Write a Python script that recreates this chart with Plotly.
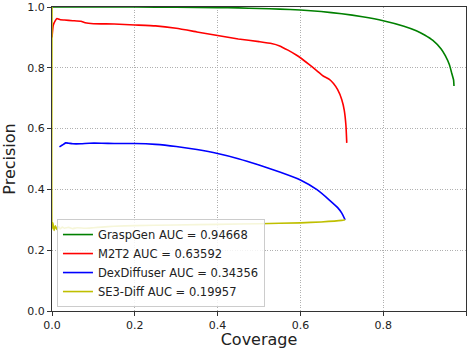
import plotly.graph_objects as go

# ---- data ----
graspgen_cov = [0.0, 0.1, 0.2, 0.3, 0.4, 0.45, 0.5, 0.55, 0.6, 0.65, 0.7, 0.75, 0.8, 0.85,
                0.88, 0.9, 0.92, 0.94, 0.95, 0.96, 0.965, 0.97, 0.971]
graspgen_prec = [1.0, 1.0, 1.0, 0.999, 0.998, 0.997, 0.995, 0.993, 0.99, 0.985, 0.978, 0.968,
                 0.955, 0.937, 0.922, 0.908, 0.89, 0.862, 0.84, 0.81, 0.785, 0.76, 0.74]

m2t2_cov = [0.0, 0.003, 0.008, 0.012, 0.02, 0.03, 0.05, 0.07, 0.08, 0.1, 0.15, 0.2, 0.25, 0.3,
            0.35, 0.4, 0.45, 0.5, 0.53, 0.55, 0.57, 0.59, 0.6, 0.62, 0.64, 0.655, 0.67, 0.68,
            0.69, 0.7, 0.706, 0.71, 0.712]
m2t2_prec = [0.9, 0.94, 0.955, 0.962, 0.958, 0.957, 0.955, 0.953, 0.948, 0.945, 0.944, 0.941,
             0.938, 0.93, 0.918, 0.906, 0.895, 0.886, 0.88, 0.872, 0.858, 0.842, 0.833, 0.812,
             0.79, 0.773, 0.762, 0.748, 0.728, 0.695, 0.66, 0.61, 0.553]

dex_cov = [0.018, 0.025, 0.033, 0.04, 0.05, 0.07, 0.09, 0.12, 0.15, 0.2, 0.25, 0.3, 0.35, 0.4,
           0.45, 0.5, 0.55, 0.6, 0.64, 0.67, 0.69, 0.70, 0.708]
dex_prec = [0.54, 0.546, 0.553, 0.552, 0.55, 0.55, 0.552, 0.552, 0.551, 0.551, 0.548, 0.541,
            0.531, 0.518, 0.501, 0.48, 0.457, 0.431, 0.399, 0.365, 0.34, 0.322, 0.3]

se3_cov = [0.0, 0.0, 0.002, 0.005, 0.008, 0.012, 0.016, 0.02, 0.025, 0.03, 0.04, 0.05, 0.06,
           0.08, 0.1, 0.12, 0.15, 0.2, 0.3, 0.4, 0.5, 0.6, 0.65, 0.7, 0.708]
se3_prec = [1.0, 0.27, 0.29, 0.265, 0.28, 0.268, 0.278, 0.27, 0.276, 0.272, 0.275, 0.271, 0.274,
            0.272, 0.274, 0.276, 0.279, 0.281, 0.283, 0.285, 0.287, 0.29, 0.293, 0.298, 0.3]

series_names = ["GraspGen AUC = 0.94668", "M2T2 AUC = 0.63592",
                "DexDiffuser AUC = 0.34356", "SE3-Diff AUC = 0.19957"]
series_colors = ["#008000", "#ff0000", "#0000ff", "#bfbf00"]

tick_vals = [0, 0.2, 0.4, 0.6, 0.8, 1.0]
tick_text = ["0.0", "0.2", "0.4", "0.6", "0.8", "1.0"]

FONT = "DejaVu Sans"

fig = go.Figure()
for xs, ys, name, col in zip([graspgen_cov, m2t2_cov, dex_cov, se3_cov],
                             [graspgen_prec, m2t2_prec, dex_prec, se3_prec],
                             series_names, series_colors):
    fig.add_trace(go.Scatter(x=xs, y=ys, mode="lines", name=name,
                             line=dict(color=col, width=1.6, shape="spline", smoothing=0.4),
                             cliponaxis=False))

axis_common = dict(
    range=[0, 1], tickvals=tick_vals, ticktext=tick_text, automargin=False,
    showgrid=True, gridcolor="#b0b0b0", griddash="1px,1.5px", gridwidth=0.8,
    zeroline=False, showline=True, linecolor="#333333", linewidth=1, mirror=True,
    ticks="outside", ticklen=4, tickcolor="#333333",
    tickfont=dict(family=FONT, size=11, color="#222222"),
)

fig.update_layout(
    width=474, height=349,
    margin=dict(l=52, r=8, t=7, b=38, autoexpand=False),
    paper_bgcolor="white", plot_bgcolor="white",
    font=dict(family=FONT, color="#222222"),
    xaxis=dict(**axis_common, title=dict(text="Coverage", font=dict(family=FONT, size=16), standoff=3)),
    yaxis=dict(**axis_common, title=dict(text="Precision", font=dict(family=FONT, size=16), standoff=7)),
    legend=dict(x=0.012, y=0.013, xanchor="left", yanchor="bottom",
                bgcolor="rgba(255,255,255,0.85)", bordercolor="#cccccc", borderwidth=1,
                font=dict(family=FONT, size=11.5, color="#222222"),
                itemwidth=30, tracegroupgap=0),
    showlegend=True,
)

fig.write_html("out.html", post_script="document.body.style.margin='0';",
               config={"displayModeBar": False})
